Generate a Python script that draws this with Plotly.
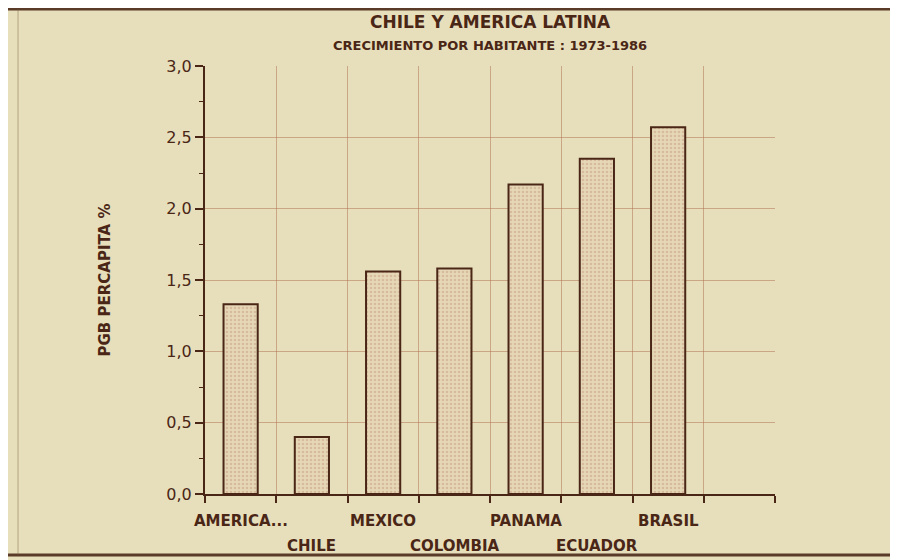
import plotly.graph_objects as go

categories = ["AMERICA...", "CHILE", "MEXICO", "COLOMBIA", "PANAMA", "ECUADOR", "BRASIL"]
values = [1.33, 0.40, 1.56, 1.58, 2.17, 2.35, 2.57]
label_row = [0, 1, 0, 1, 0, 1, 0]
y_ticks = [0.0, 0.5, 1.0, 1.5, 2.0, 2.5, 3.0]
title_text = "CHILE Y AMERICA LATINA"
subtitle_text = "CRECIMIENTO POR HABITANTE : 1973-1986"

INK = "#4a2616"
GRID = "rgba(175,110,80,0.5)"
PAPER = "#e7dfbb"
FONT = "DejaVu Sans"

xs = list(range(len(categories)))

fig = go.Figure()
fig.add_trace(go.Bar(
    x=xs, y=values, width=0.48,
    marker=dict(
        color="#e3d3b0",
        line=dict(color=INK, width=2),
        pattern=dict(shape=".", fgcolor="rgba(170,110,90,0.55)", bgcolor="#e6d8b6", size=4, solidity=0.35),
    ),
    showlegend=False,
))

for x, name, row in zip(xs, categories, label_row):
    fig.add_annotation(
        x=x, y=0, xref="x", yref="paper", text=f"<b>{name}</b>", showarrow=False,
        yanchor="top", yshift=-16 - 25 * row,
        font=dict(family=FONT, size=15, color=INK),
    )

fig.add_annotation(x=0.5, y=1.103, xref="paper", yref="paper", text=f"<b>{title_text}</b>",
                   showarrow=False, xanchor="center", yanchor="middle",
                   font=dict(family=FONT, size=17, color=INK))
fig.add_annotation(x=0.5, y=1.049, xref="paper", yref="paper", text=f"<b>{subtitle_text}</b>",
                   showarrow=False, xanchor="center", yanchor="middle",
                   font=dict(family=FONT, size=13, color=INK))

fig.update_layout(
    width=890, height=552,
    paper_bgcolor=PAPER, plot_bgcolor=PAPER,
    margin=dict(l=197, r=123, t=58, b=66),
    separators=",.",
    xaxis=dict(
        range=[-0.5, 7.5], tickvals=[], showgrid=False, zeroline=False,
        showline=True, linecolor=INK, linewidth=2,
        minor=dict(tickmode="array", tickvals=[i - 0.5 for i in range(9)], ticks="outside",
                   ticklen=7, tickwidth=1.5, tickcolor=INK, showgrid=True, gridcolor=GRID, gridwidth=1),
    ),
    yaxis=dict(
        range=[0, 3.0], tickvals=y_ticks, tickformat=".1f", ticks="outside", ticklen=8,
        tickwidth=1.5, tickcolor=INK, showline=True, linecolor=INK, linewidth=2,
        showgrid=True, gridcolor=GRID, gridwidth=1, zeroline=False,
        tickfont=dict(family=FONT, size=16, color=INK),
        title=dict(text="<b>PGB PERCAPITA %</b>", font=dict(family=FONT, size=15, color=INK), standoff=52),
        minor=dict(dtick=0.25, tick0=0, ticks="outside", ticklen=4, tickwidth=1, tickcolor=INK, showgrid=False),
    ),
    shapes=[
        dict(type="line", xref="paper", yref="paper", x0=-0.36, x1=1.22, y0=1.133, y1=1.133,
             line=dict(color="#5a3a28", width=3)),
        dict(type="line", xref="paper", yref="paper", x0=-0.36, x1=1.22, y0=-0.1425, y1=-0.1425,
             line=dict(color="#5a3a28", width=3)),
        dict(type="line", xref="paper", yref="paper", x0=-0.328, x1=-0.328, y0=-0.1425, y1=1.133,
             line=dict(color="rgba(120,90,60,0.3)", width=1.5)),
    ],
)

fig.write_html("out.html")
